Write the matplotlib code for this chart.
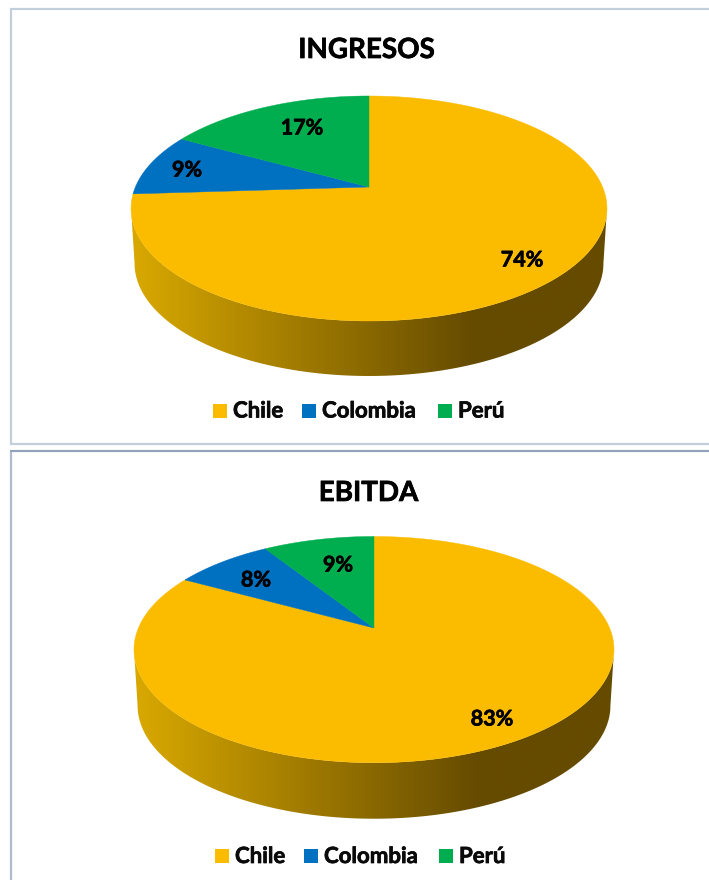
import numpy as np
import matplotlib
matplotlib.use("Agg")
import matplotlib.pyplot as plt
import matplotlib.patheffects as pe
from matplotlib.colors import LinearSegmentedColormap
from matplotlib.patches import Polygon, Rectangle

plt.rcParams['font.family'] = ['Lato', 'DejaVu Sans']

countries = ['Chile', 'Colombia', 'Perú']
ingresos = [74, 9, 17]
ebitda = [83, 8, 9]
colors = ['#FBBC00', '#0070C0', '#00AE4F']

TILT = 0.191  # perspective of the disc
side_cmap = LinearSegmentedColormap.from_list(
    'side', [(0, '#D9A900'), (0.72, '#654B00'), (1, '#654B00')])
bold = [pe.withStroke(linewidth=0.5, foreground='black')]


def project(r, t, cx, cy, bx, by):
    # t is clockwise from 12 o'clock, r goes 0..1 on the disc
    u, v = r * np.sin(t), r * np.cos(t)
    d = 1 + TILT * v
    return cx + bx * u / d, cy - by * v / d


def draw_pie(ax, values, title, cx, cy, bx, by, depth, title_xy, legend_y, legend_x, label_xy):
    # side wall
    t = np.linspace(0, 2 * np.pi, 721)
    x, y = project(1, t, cx, cy, bx, by)
    left, right = x.argmin(), x.argmax()
    low = np.arange(right, left + 1)
    mid = (x.min() + x.max()) / 2
    x2 = mid + (x[low] - mid) * 0.985
    y2 = y[low] + depth
    wall = np.r_[np.c_[x[low], y[low]], np.c_[x2, y2][::-1]]
    grad = np.linspace(0, 1, 256).reshape(1, -1)
    im = ax.imshow(grad, cmap=side_cmap, aspect='auto', zorder=2,
                   extent=[x.min(), x.max(), y2.max(), y.min()])
    patch = Polygon(wall, closed=True, transform=ax.transData, fc='none', ec='none')
    ax.add_patch(patch)
    im.set_clip_path(patch)

    # top of the pie, clockwise from 12 o'clock
    edges = np.r_[0, np.cumsum(values)] / np.sum(values) * 2 * np.pi
    for i, val in enumerate(values):
        tt = np.linspace(edges[i], edges[i + 1], 200)
        xs, ys = project(1, tt, cx, cy, bx, by)
        ax.fill(np.r_[cx, xs], np.r_[cy, ys], color=colors[i], lw=0.3, zorder=3)
        ax.text(label_xy[i][0], label_xy[i][1], '%d%%' % val, fontsize=15.5,
                fontweight='bold', ha='center', va='center', color='black', zorder=4,
                path_effects=bold)

    ax.text(title_xy[0], title_xy[1], title, fontsize=20,
            fontweight='bold', ha='center', va='center', color='black', path_effects=bold)

    # legend
    for name, col, lx in zip(countries, colors, legend_x):
        ax.add_patch(Rectangle((lx, legend_y - 7), 14, 14, fc=col, ec='none'))
        ax.text(lx + 20, legend_y, name, fontsize=16, fontweight='bold',
                ha='left', va='center', color='#0a0a0a', path_effects=bold)


fig = plt.figure(figsize=(7.09, 8.8), dpi=100)
ax = fig.add_axes([0, 0, 1, 1])

# chart frames
ax.add_patch(Rectangle((11, 9), 760, 435, fc='white', ec='#C3CEDC', lw=1.6))
ax.add_patch(Rectangle((11, 451), 760, 500, fc='white', ec='#B0BCCE', lw=1.6))
ax.plot([11, 709], [451, 451], color='#8C9DB6', lw=1.2)

draw_pie(ax, ingresos, 'INGRESOS', 369, 187, 233.6, 108.4, 55, (366.5, 50), 411, [213, 302, 438],
         [(522, 260), (187, 170), (302, 128)])
draw_pie(ax, ebitda, 'EBITDA', 374, 628, 235.6, 109, 56, (368.5, 493), 856.5, [215, 304, 439],
         [(492, 719), (256, 580), (338, 565)])

ax.set_xlim(0, 709)
ax.set_ylim(880, 0)
ax.axis('off')

plt.savefig('out.png', dpi=100)
